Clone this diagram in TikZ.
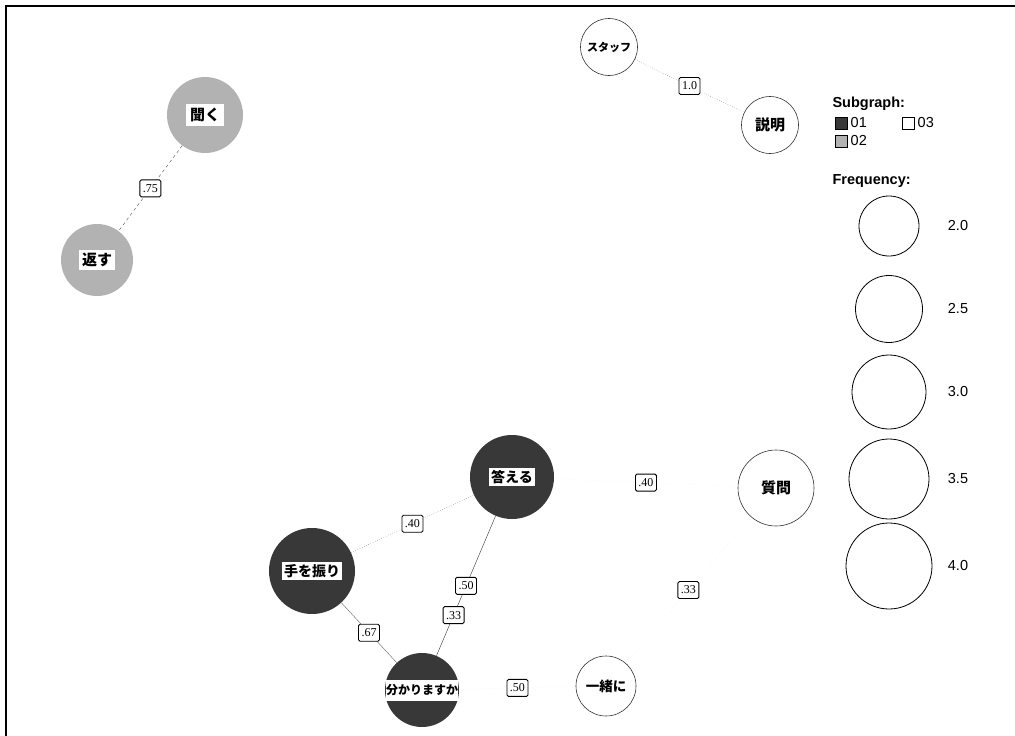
\documentclass[tikz,border=0pt]{standalone}
\usepackage{fontspec}
\setmainfont{Liberation Serif}
\setsansfont{Liberation Sans}
\newfontfamily\jpfont{Noto Sans CJK JP}
\begin{document}
\begin{tikzpicture}[x=1pt, y=-1pt,
    word/.style={circle, minimum size=#1, inner sep=0pt},
    dark/.style={fill=black!78},
    light/.style={fill=black!30},
    plain/.style={draw=black!80, fill=white, line width=.6pt},
    tag/.style={fill=white, inner sep=2pt, font=\jpfont\bfseries\fontsize{14}{14}\selectfont},
    jp/.style={font=\jpfont\bfseries\fontsize{#1}{#1}\selectfont},
    val/.style={solid, draw=black, text=black, fill=white, rounded corners=1.5pt, line width=.9pt,
                inner xsep=3pt, inner ysep=1.5pt, minimum height=17pt, font=\fontsize{12}{12}\selectfont},
    faint/.style={draw=black!8, dotted},
    legend/.style={font=\sffamily\bfseries\fontsize{14.5}{15}\selectfont}]
\useasboundingbox (0,0) rectangle (1015,736);
\draw[line width=1.4pt] (1015,6)--(6,6)--(6,736);

% words
\node[word=57, plain, label={[tag, jp=11, inner sep=1pt]center:スタッフ}] (staff) at (609,47) {};
\node[word=57, plain, label={[tag, jp=15, inner sep=1pt]center:説明}] (setsumei) at (770,125) {};
\node[word=76, light, label={[tag, jp=15, inner sep=4pt]center:聞く}] (kiku) at (205,115) {};
\node[word=72, light, label={[tag, jp=15, inner sep=3pt]center:返す}] (kaesu) at (97,260) {};
\node[word=84, dark, label={[tag]center:答える}] (kotaeru) at (512,477) {};
\node[word=86, dark, label={[tag]center:手を振り}] (tewofuri) at (312,571) {};
\node[word=74, dark, label={[tag, jp=12, inner xsep=0pt, minimum height=21pt]center:分かりますか}] (wakari) at (422,690) {};
\node[word=76, plain, label={[tag, jp=15]center:質問}] (shitsumon) at (776,488) {};
\node[word=60, plain, label={[tag, jp=13.5, inner sep=1pt]center:一緒に}] (issho) at (606,686) {};

% edges
\draw[dotted, black!70] (staff)--node[val]{1.0}(setsumei);
\draw[dashed, black!70] (kiku)--node[val]{.75}(kaesu);
\draw[dotted, black!70] (tewofuri)--node[val]{.40}(kotaeru);
\draw[black!80] (kotaeru)--node[val]{.50}node[val, pos=.71]{.33}(wakari);
\draw[black!60] (tewofuri)--node[val]{.67}(wakari);
\draw[faint] (kotaeru)--node[val]{.40}(shitsumon);
\draw[faint] (shitsumon)--node[val]{.33}(issho);
\draw[faint] (wakari)--node[val]{.50}(issho);

% legend
\begin{scope}[font=\sffamily\fontsize{14.5}{15}\selectfont]
\node[anchor=west, legend] (subgraph) at (829,104) {Subgraph:};
\node[draw, dark, minimum size=12pt, inner sep=0pt] (sq1) at (841,123) {};
\node[anchor=west] at (sq1.east) {01};
\node[draw, fill=white, minimum size=12pt, inner sep=0pt] (sq3) at (908,123) {};
\node[anchor=west] at (sq3.east) {03};
\node[draw, light, minimum size=12pt, inner sep=0pt] (sq2) at (841,141) {};
\node[anchor=west] at (sq2.east) {02};
\node[anchor=west, legend] (freq) at (829,181) {Frequency:};
\foreach \y/\d/\f in {226/60/2.0, 309/67/2.5, 392/74/3.0, 479/80/3.5, 566/86/4.0}{
  \node[word=\d, draw, line width=.8pt] (f\f) at (889,\y) {};
  \node at (958,\y) {\f};
}
\end{scope}
\end{tikzpicture}
\end{document}
